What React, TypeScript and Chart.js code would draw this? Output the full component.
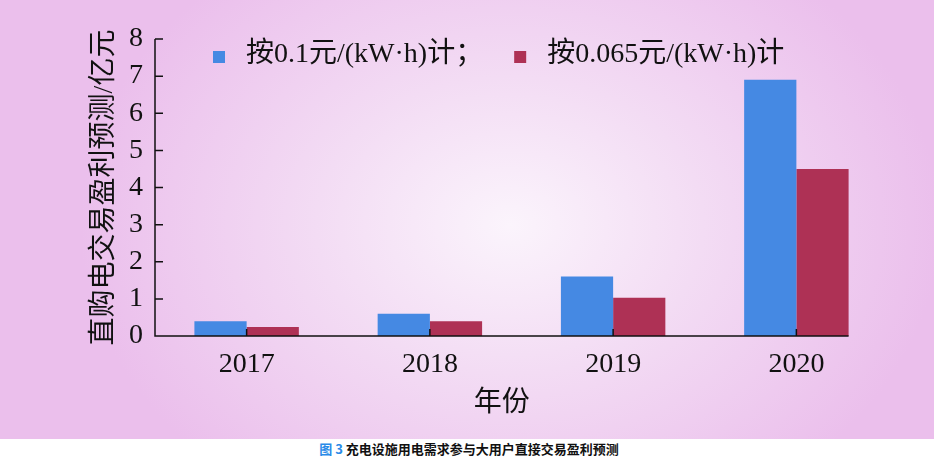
import React, { useEffect, useRef } from 'react';
import { Chart, registerables } from 'chart.js';

Chart.register(...registerables);

const years = ['2017', '2018', '2019', '2020'];
const profitAt01 = [0.4, 0.6, 1.6, 6.9];
const profitAt0065 = [0.24, 0.4, 1.03, 4.5];
const seriesLabels = ['按0.1元/(kW·h)计；', '按0.065元/(kW·h)计'];
const seriesColors = ['#4589E3', '#AE3155'];
const yTicks = [0, 1, 2, 3, 4, 5, 6, 7, 8];
const yTitle = '直购电交易盈利预测/亿元';
const xTitle = '年份';
const captionNo = '图 3';
const captionText = '充电设施用电需求参与大用户直接交易盈利预测';

const SERIF = '"Liberation Serif", "Noto Sans CJK SC", serif';

const axesPlugin = {
  id: 'customAxes',
  afterDatasetsDraw(chart: any) {
    const { ctx, chartArea, scales } = chart;
    const xs = scales.x;
    const ys = scales.y;
    const meta = chart.getDatasetMeta(chart.data.datasets.length - 1);
    const last = meta.data[meta.data.length - 1];
    const right = last.x + last.width / 2;
    const left = chartArea.left;
    const base = ys.getPixelForValue(0);
    ctx.save();
    ctx.strokeStyle = '#111';
    ctx.lineWidth = 1.5;
    ctx.beginPath();
    ctx.moveTo(left, ys.getPixelForValue(yTicks[yTicks.length - 1]));
    ctx.lineTo(left, base);
    ctx.lineTo(right, base);
    yTicks.forEach((v) => {
      const py = ys.getPixelForValue(v);
      ctx.moveTo(left, py);
      ctx.lineTo(left + 8, py);
    });
    years.forEach((_, i) => {
      const px = xs.getPixelForValue(i);
      ctx.moveTo(px, base);
      ctx.lineTo(px, base - 7);
    });
    ctx.stroke();

    // x-axis title, centred under the drawn axis line
    ctx.fillStyle = '#111';
    ctx.font = `28px ${SERIF}`;
    ctx.textAlign = 'center';
    ctx.textBaseline = 'middle';
    ctx.fillText(xTitle, (left + right) / 2, base + 68);

    // legend overlaid inside plot
    ctx.textAlign = 'left';
    let lx = 213;
    const ly = 57;
    chart.data.datasets.forEach((ds: any) => {
      ctx.fillStyle = ds.backgroundColor;
      ctx.fillRect(lx, ly - 6, 12, 12);
      lx += 12 + 21;
      ctx.fillStyle = '#111';
      ctx.fillText(ds.label, lx, ly - 2);
      lx += ctx.measureText(ds.label).width + 31;
    });
    ctx.restore();
  },
};

function ChartCanvas() {
  const ref = useRef<HTMLCanvasElement | null>(null);
  useEffect(() => {
    if (!ref.current) return;
    const chart = new Chart(ref.current, {
      type: 'bar',
      data: {
        labels: years,
        datasets: [
          { label: seriesLabels[0], data: profitAt01, backgroundColor: seriesColors[0], borderWidth: 0 },
          { label: seriesLabels[1], data: profitAt0065, backgroundColor: seriesColors[1], borderWidth: 0 },
        ],
      },
      options: {
        animation: false,
        responsive: false,
        maintainAspectRatio: false,
        layout: { padding: { top: 39, right: 46, bottom: 0, left: 0 } },
        datasets: { bar: { categoryPercentage: 0.57, barPercentage: 1 } },
        plugins: { legend: { display: false }, tooltip: { enabled: false } },
        scales: {
          x: {
            offset: true,
            grid: { display: false, drawTicks: false },
            border: { display: false },
            ticks: { color: '#111', font: { family: SERIF, size: 28 }, padding: 12, maxRotation: 0 },
            afterFit: (s: any) => { s.height = 103; },
          },
          y: {
            min: 0,
            max: 8,
            grid: { display: false, drawTicks: false },
            border: { display: false },
            ticks: { stepSize: 1, color: '#111', font: { family: SERIF, size: 28 }, padding: 12 },
            title: {
              display: true,
              text: yTitle,
              color: '#111',
              font: { family: SERIF, size: 28 },
              padding: { top: 88, bottom: 0 },
            },
            afterFit: (s: any) => { s.width = 155; },
          },
        },
      },
      plugins: [axesPlugin],
    });
    return () => chart.destroy();
  }, []);
  return <canvas ref={ref} width={934} height={439} style={{ display: 'block', width: 934, height: 439 }} />;
}

export default function App() {
  return (
    <div style={{ position: 'absolute', left: 0, top: 0, width: 934, height: 461, background: '#fff', overflow: 'hidden' }}>
      <div
        style={{
          width: 934,
          height: 439,
          background: 'radial-gradient(ellipse 430px 330px at 510px 225px, #fbf4fc 0%, #f3dcf4 45%, #ebbfec 100%)',
        }}
      >
        <ChartCanvas />
      </div>
      <div
        style={{
          height: 22,
          lineHeight: '20px',
          textAlign: 'center',
          fontFamily: '"Noto Sans CJK SC", sans-serif',
          fontWeight: 'bold',
          fontSize: 13,
          color: '#111',
          paddingLeft: 4,
        }}
      >
        <span style={{ color: '#2a8be8' }}>{captionNo}</span> {captionText}
      </div>
    </div>
  );
}
